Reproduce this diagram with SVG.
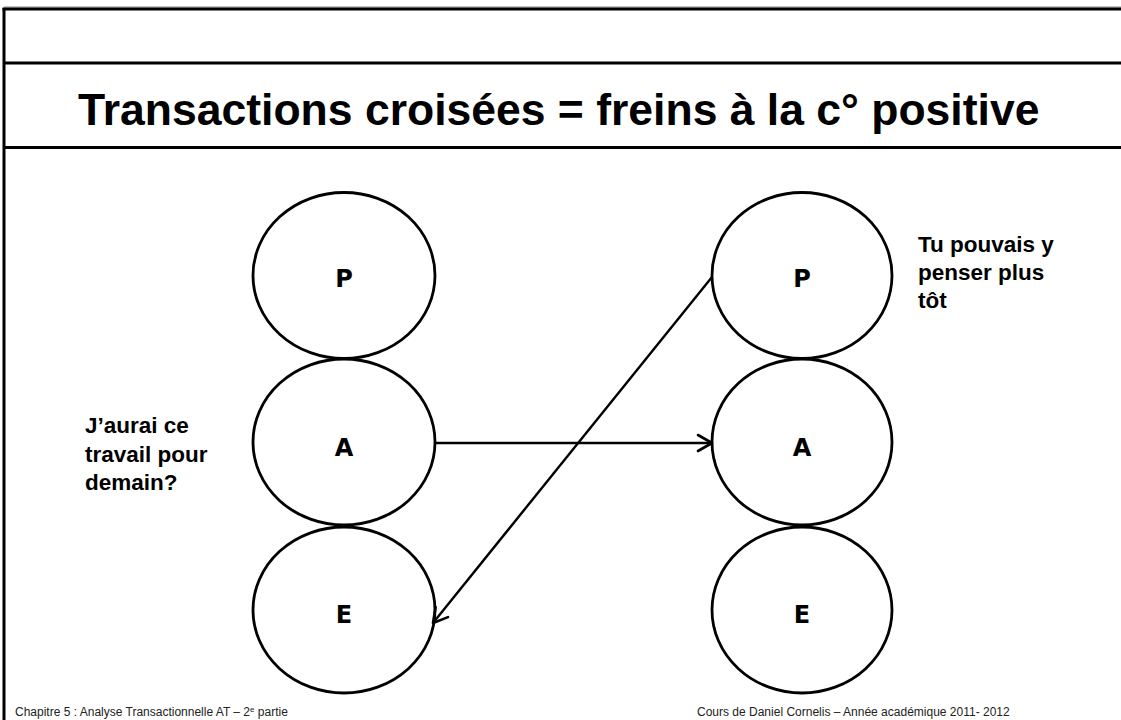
<svg xmlns="http://www.w3.org/2000/svg" width="1121" height="720" viewBox="0 0 1121 720">
<style>
.frame{stroke:#000;stroke-width:3;fill:none}
.ego{fill:#fff;stroke:#000;stroke-width:2.8}
.lbl{font-family:"DejaVu Sans",Verdana,sans-serif;font-weight:bold;font-size:24px;text-anchor:middle;fill:#000}
.note{font-family:"Liberation Sans",Arial,sans-serif;font-weight:bold;font-size:22.5px;fill:#000}
.title{font-family:"Liberation Sans",Arial,sans-serif;font-weight:bold;font-size:44.5px;fill:#000}
.foot{font-family:"Liberation Sans",Arial,sans-serif;font-size:12px;fill:#222}
.conn{stroke:#000;stroke-width:2.4;fill:none}
</style>
<defs>
<marker id="arr" viewBox="0 0 20 20" refX="18" refY="10" markerWidth="20" markerHeight="20" markerUnits="userSpaceOnUse" orient="auto">
<path d="M4,2 L18,10 L4,18" fill="none" stroke="#000" stroke-width="2.6" stroke-linecap="round" stroke-linejoin="round"/>
</marker>
</defs>
<rect width="1121" height="720" fill="#fff"/>
<g id="frame">
<line x1="4" y1="7" x2="1121" y2="7" stroke="#888" stroke-width="1"/>
<line class="frame" x1="2.5" y1="9" x2="1121" y2="9"/>
<line class="frame" x1="4" y1="8" x2="4" y2="720"/>
<line class="frame" x1="4" y1="63" x2="1121" y2="63"/>
<line class="frame" x1="4" y1="147.5" x2="1121" y2="147.5"/>
</g>
<text id="title" class="title" x="78" y="125">Transactions croisées = freins à la c° positive</text>
<g id="left-P"><ellipse class="ego" cx="344" cy="275.5" rx="91" ry="83"/><text class="lbl" x="344" y="287">P</text></g>
<g id="left-A"><ellipse class="ego" cx="344" cy="442" rx="91" ry="83"/><text class="lbl" x="344" y="456">A</text></g>
<g id="left-E"><ellipse class="ego" cx="344" cy="610" rx="91" ry="83"/><text class="lbl" x="344" y="623">E</text></g>
<g id="right-P"><ellipse class="ego" cx="802" cy="275.5" rx="90" ry="83"/><text class="lbl" x="802" y="287">P</text></g>
<g id="right-A"><ellipse class="ego" cx="802" cy="442" rx="90" ry="83"/><text class="lbl" x="802" y="456">A</text></g>
<g id="right-E"><ellipse class="ego" cx="802" cy="610" rx="90" ry="83"/><text class="lbl" x="802" y="623">E</text></g>
<g id="connectors">
<line class="conn" x1="435" y1="443" x2="712" y2="443" marker-end="url(#arr)"/>
<line class="conn" x1="712" y1="277" x2="433" y2="623" marker-end="url(#arr)"/>
</g>
<g id="note-left">
<text class="note" x="85" y="433">J’aurai ce</text>
<text class="note" x="85" y="462">travail pour</text>
<text class="note" x="85" y="490">demain?</text>
</g>
<g id="note-right">
<text class="note" x="918" y="252">Tu pouvais y</text>
<text class="note" x="918" y="280">penser plus</text>
<text class="note" x="918" y="308">tôt</text>
</g>
<text class="foot" x="15" y="716">Chapitre 5 : Analyse Transactionnelle AT – 2<tspan font-size="8" dy="-4">e</tspan><tspan dy="4"> partie</tspan></text>
<text class="foot" x="697" y="716">Cours de Daniel Cornelis – Année académique 2011- 2012</text>
</svg>
